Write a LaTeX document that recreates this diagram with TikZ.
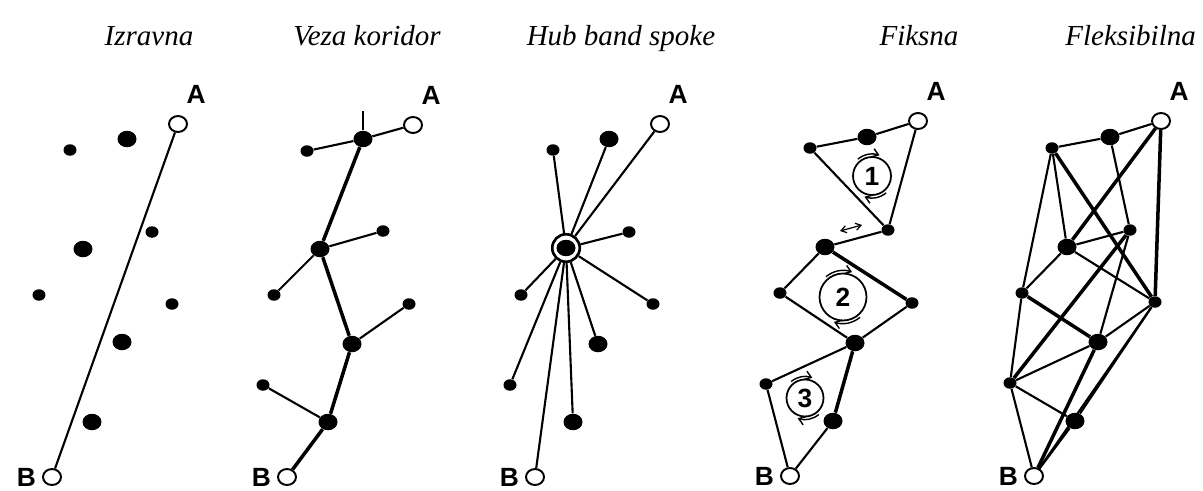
\documentclass[tikz,border=0pt]{standalone}
\usepackage{fontspec}
\setmainfont{Liberation Serif}
\newfontfamily\labelfont{Liberation Sans}
\usetikzlibrary{shapes.geometric, arrows.meta, positioning}

\begin{document}
\begin{tikzpicture}[
        x=0.02cm, y=-0.02cm,
        bigdot/.style={ellipse, fill=black, inner sep=0pt, minimum width=0.38cm, minimum height=0.33cm},
        smalldot/.style={ellipse, fill=black, inner sep=0pt, minimum width=0.26cm, minimum height=0.23cm},
        endpoint/.style={ellipse, draw, line width=1.1pt, fill=white, inner sep=0pt, minimum width=0.36cm, minimum height=0.32cm},
        hubring/.style={circle, draw, line width=1.5pt, fill=white, inner sep=0pt, minimum size=0.55cm},
        loopnum/.style={circle, draw, line width=1pt, inner sep=0pt, font=\labelfont\bfseries\fontsize{15}{17}\selectfont},
        title/.style={font=\fontsize{16.5}{20}\selectfont\itshape, anchor=base},
        endlabel/.style={font=\labelfont\bfseries\fontsize{15}{17}\selectfont},
        link/.style={line width=1.2pt},
        trunk/.style={line width=2pt},
        cycarrow/.style={line width=0.8pt, -{Straight Barb[length=3.5pt, width=5pt]}}
    ]
        \useasboundingbox (0,0) rectangle (1203,490);

        % Titles
        \node (t1) [title] at (149,45) {Izravna};
        \node (t2) [title] at (367,45) {Veza koridor};
        \node (t3) [title] at (621,45) {Hub band spoke};
        \node (t4) [title] at (919,45) {Fiksna};
        \node (t5) [title, anchor=base east] at (1202,45) {Fleksibilna};

        % Izravna
        \node (iA) [endpoint, label={[endlabel, label distance=3pt]80:A}] at (178,124) {};
        \node (iB) [endpoint, label={[endlabel, label distance=0pt]left:B}] at (52,477) {};
        \node (i1) [bigdot] at (127,139) {};
        \node (i2) [smalldot] at (70,150) {};
        \node (i3) [smalldot] at (152,232) {};
        \node (i4) [bigdot] at (83,249) {};
        \node (i5) [smalldot] at (39,295) {};
        \node (i6) [smalldot] at (172,304) {};
        \node (i7) [bigdot] at (122,342) {};
        \node (i8) [bigdot] at (92,422) {};
        \draw[link] (iA) -- (iB);

        % Veza koridor
        \node (vA) [endpoint, label={[endlabel, label distance=3pt]80:A}] at (413,125) {};
        \node (vB) [endpoint, label={[endlabel, label distance=0pt]left:B}] at (287,477) {};
        \node (v1) [bigdot] at (363,139) {};
        \node (v2) [bigdot] at (320,249) {};
        \node (v3) [bigdot] at (352,344) {};
        \node (v4) [bigdot] at (328,422) {};
        \node (va) [smalldot] at (307,151) {};
        \node (vb) [smalldot] at (383,231) {};
        \node (vc) [smalldot] at (274,295) {};
        \node (vd) [smalldot] at (409,304) {};
        \node (ve) [smalldot] at (263,385) {};
        \coordinate (vt) at (363,111);
        \draw[link] (vA) -- (v1);
        \draw[link] (v1) -- (vt);
        \draw[link] (v1) -- (va);
        \draw[link] (v2) -- (vb);
        \draw[link] (v2) -- (vc);
        \draw[link] (v3) -- (vd);
        \draw[link] (v4) -- (ve);
        \draw[trunk] (v1) -- (v2) -- (v3) -- (v4) -- (vB);

        % Hub band spoke
        \node (hA) [endpoint, label={[endlabel, label distance=3pt]80:A}] at (660,124) {};
        \node (hB) [endpoint, label={[endlabel, label distance=0pt]left:B}] at (535,477) {};
        \node (hub) [hubring] at (566,248) {};
        \node (hc0) [bigdot] at (hub) {};
        \node (ha) [smalldot] at (553,150) {};
        \node (hb) [bigdot] at (609,139) {};
        \node (hc) [smalldot] at (629,232) {};
        \node (hd) [smalldot] at (653,304) {};
        \node (he) [bigdot] at (598,344) {};
        \node (hf) [bigdot] at (573,422) {};
        \node (hg) [smalldot] at (510,385) {};
        \node (hh) [smalldot] at (521,295) {};
        \draw[link] (hub) -- (hA);
        \draw[link] (hub) -- (hB);
        \draw[link] (hub) -- (ha);
        \draw[link] (hub) -- (hb);
        \draw[link] (hub) -- (hc);
        \draw[link] (hub) -- (hd);
        \draw[link] (hub) -- (he);
        \draw[link] (hub) -- (hf);
        \draw[link] (hub) -- (hg);
        \draw[link] (hub) -- (hh);

        % Fiksna
        \node (fA) [endpoint, label={[endlabel, label distance=3pt]80:A}] at (918,121) {};
        \node (fB) [endpoint, label={[endlabel, label distance=0pt]left:B}] at (790,476) {};
        \node (f1) [smalldot] at (810,148) {};
        \node (f2) [bigdot] at (867,137) {};
        \node (f3) [smalldot] at (888,230) {};
        \node (f4) [bigdot] at (825,247) {};
        \node (f5) [smalldot] at (780,293) {};
        \node (f6) [smalldot] at (912,303) {};
        \node (f7) [bigdot] at (855,343) {};
        \node (f8) [smalldot] at (766,384) {};
        \node (f9) [bigdot] at (833,421) {};
        \draw[link] (f1) -- (f2) -- (fA) -- (f3) -- (f1);
        \draw[link] (f3) -- (f4);
        \draw[link] (f4) -- (f5) -- (f7) -- (f6);
        \draw[trunk] (f6) -- (f4);
        \draw[link] (f7) -- (f8) -- (fB) -- (f9);
        \draw[trunk] (f9) -- (f7);
        % loops
        \node (l1) [loopnum, minimum size=0.76cm] at (872,176) {1};
        \node (l2) [loopnum, minimum size=0.94cm] at (843,297) {2};
        \node (l3) [loopnum, minimum size=0.74cm] at (805,398) {3};
        \draw[cycarrow] (l1) ++(130:0.44cm) arc[start angle=130, end angle=70, radius=0.44cm];
        \draw[cycarrow] (l1) ++(310:0.44cm) arc[start angle=310, end angle=250, radius=0.44cm];
        \draw[cycarrow] (l2) ++(130:0.53cm) arc[start angle=130, end angle=70, radius=0.53cm];
        \draw[cycarrow] (l2) ++(310:0.53cm) arc[start angle=310, end angle=250, radius=0.53cm];
        \draw[cycarrow] (l3) ++(130:0.43cm) arc[start angle=130, end angle=70, radius=0.43cm];
        \draw[cycarrow] (l3) ++(310:0.43cm) arc[start angle=310, end angle=250, radius=0.43cm];
        \coordinate (sw1) at (840,231);
        \coordinate (sw2) at (862,225);
        \draw[line width=0.7pt, {Straight Barb[length=3pt, width=4pt]}-{Straight Barb[length=3pt, width=4pt]}] (sw1) -- (sw2);

        % Fleksibilna
        \node (xA) [endpoint, label={[endlabel, label distance=3pt]80:A}] at (1161,121) {};
        \node (xB) [endpoint, label={[endlabel, label distance=0pt]left:B}] at (1034,476) {};
        \node (x1) [smalldot] at (1052,148) {};
        \node (x2) [bigdot] at (1110,137) {};
        \node (x3) [smalldot] at (1130,230) {};
        \node (x4) [bigdot] at (1067,247) {};
        \node (x5) [smalldot] at (1022,293) {};
        \node (x6) [smalldot] at (1155,302) {};
        \node (x7) [bigdot] at (1098,342) {};
        \node (x8) [smalldot] at (1010,383) {};
        \node (x9) [bigdot] at (1075,421) {};
        \draw[link] (x1) -- (x2) -- (xA);
        \draw[link] (x1) -- (x4);
        \draw[link] (x1) -- (x5) -- (x8) -- (xB);
        \draw[link] (x2) -- (x3) -- (x4);
        \draw[link] (x4) -- (x6);
        \draw[link] (x4) -- (x5);
        \draw[link] (x3) -- (x7);
        \draw[link] (x6) -- (x7) -- (x8) -- (x9);
        \draw[link] (x6) -- (x9) -- (xB);
        \draw[link] (x6) -- (xB);
        \draw[trunk] (xA) -- (x6);
        \draw[trunk] (x1) -- (x6);
        \draw[trunk] (xA) -- (x4);
        \draw[trunk] (x3) -- (x8);
        \draw[trunk] (x5) -- (x7);
        \draw[trunk] (x7) -- (xB);

    \end{tikzpicture}
\end{document}
